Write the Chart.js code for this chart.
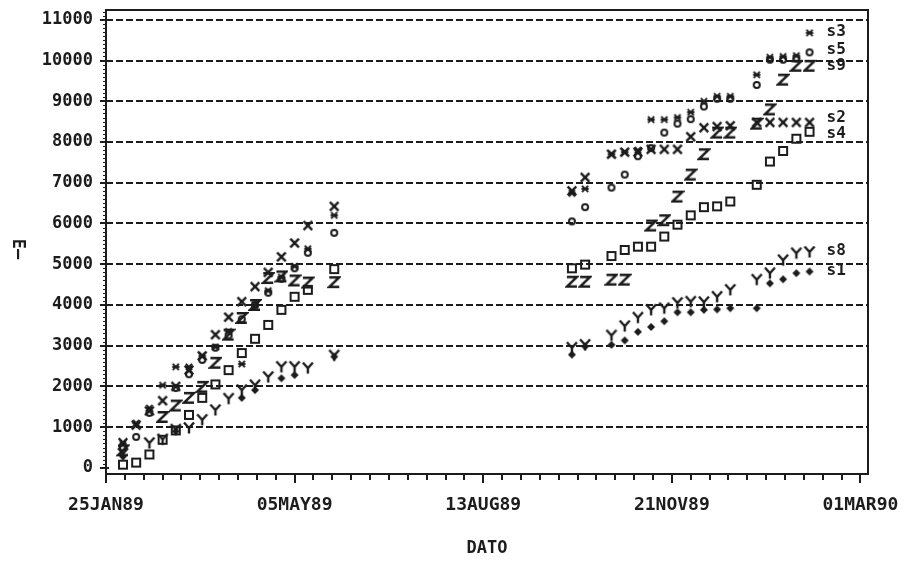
<!DOCTYPE html>
<html><head><meta charset="utf-8">
<script src="https://cdn.jsdelivr.net/npm/chart.js@4.4.1/dist/chart.umd.min.js"></script>
<style>html,body{margin:0;padding:0;background:#fff;}canvas{display:block;}</style>
</head><body>
<canvas id="c" width="905" height="565"></canvas>
<script>
// ---- data ----
const dates = [
 '1989-02-03','1989-02-10','1989-02-17','1989-02-24','1989-03-03','1989-03-10','1989-03-17','1989-03-24',
 '1989-03-31','1989-04-07','1989-04-14','1989-04-21','1989-04-28','1989-05-05','1989-05-12','1989-05-26',
 '1989-09-29','1989-10-06','1989-10-20','1989-10-27','1989-11-03','1989-11-10','1989-11-17','1989-11-24',
 '1989-12-01','1989-12-08','1989-12-15','1989-12-22','1990-01-05','1990-01-12','1990-01-19','1990-01-26','1990-02-02'];
const s1 = [280,null,null,null,900,null,null,null,null,1720,1910,null,2200,2280,null,2730,
            2780,2980,3020,3130,3340,3460,3600,3820,3820,3880,3890,3920,3920,4530,4630,4780,4820];
const s2 = [620,1050,1400,1650,2000,2400,2750,3270,3700,4080,4450,4800,5180,5520,5950,6420,
            6800,7130,7700,7750,7750,7820,7820,7820,8130,8350,8380,8400,8480,8480,8480,8480,8480];
const s3 = [600,1100,1470,2030,2480,2480,2750,2970,3350,2550,4000,4350,4680,4950,5380,6200,
            6740,6850,7700,7750,7800,8550,8550,8600,8730,9000,9120,9120,9650,10080,10100,10120,10680];
const s4 = [80,130,330,690,920,1300,1720,2050,2400,2820,3170,3510,3880,4200,4370,4880,
            4900,4990,5200,5350,5430,5430,5680,5970,6200,6400,6420,6540,6950,7520,7780,8080,8250];
const s5 = [500,760,1350,null,1960,2300,2650,2950,3250,3650,4000,4300,4640,4900,5280,5770,
            6050,6400,6880,7200,7650,7850,8230,8450,8560,8870,9060,9060,9400,10020,10020,10050,10200];
const s8 = [350,null,610,700,940,980,1180,1420,1700,1910,2030,2230,2480,2480,2450,2760,
            2950,3020,3250,3480,3690,3880,3920,4050,4080,4070,4200,4370,4620,4780,5100,5270,5300];
const s9 = [430,null,null,1250,1530,1720,1990,2580,3270,3680,4000,4660,4700,4600,4550,4560,
            4570,4570,4620,4620,null,5950,6080,6660,7200,7700,8230,8230,8450,8800,9530,9870,9870];
const seriesNames = ['s1','s2','s3','s4','s5','s8','s9'];
const seriesValues = [s1,s2,s3,s4,s5,s8,s9];
const xTickLabels = ['25JAN89','05MAY89','13AUG89','21NOV89','01MAR90'];
const yTickValues = [0,1000,2000,3000,4000,5000,6000,7000,8000,9000,10000,11000];
const xAxisTitle = 'DATO';
const yAxisTitle = 'E\u2014';

// ---- helpers ----
const MON = {JAN:0,FEB:1,MAR:2,APR:3,MAY:4,JUN:5,JUL:6,AUG:7,SEP:8,OCT:9,NOV:10,DEC:11};
function parseTick(s){ return Date.UTC(1900+ +s.slice(5,7), MON[s.slice(2,5)], +s.slice(0,2)); }
const ORIGIN = parseTick(xTickLabels[0]);
const DAY = 86400000;
function dayOf(iso){ const [y,m,d]=iso.split('-').map(Number); return (Date.UTC(y,m-1,d)-ORIGIN)/DAY; }
const xTickValues = xTickLabels.map(s => (parseTick(s)-ORIGIN)/DAY);

const INK = '#1c1c1c';
function mk(size, draw){
  const c=document.createElement('canvas'); c.width=c.height=size;
  const g=c.getContext('2d'); g.translate(size/2,size/2);
  g.strokeStyle=INK; g.fillStyle=INK; g.lineWidth=2.4; draw(g); return c;
}
const line=(g,a,b,c,d)=>{g.beginPath();g.moveTo(a,b);g.lineTo(c,d);g.stroke();};
const markers = {
  s1: mk(10,g=>{g.beginPath();g.moveTo(0,-4);g.lineTo(4,0);g.lineTo(0,4);g.lineTo(-4,0);g.closePath();g.fill();}),
  s2: mk(14,g=>{line(g,-4.3,-4.3,4.3,4.3);line(g,-4.3,4.3,4.3,-4.3);}),
  s3: mk(10,g=>{g.lineWidth=2;line(g,-3.1,-3.1,3.1,3.1);line(g,-3.1,3.1,3.1,-3.1);line(g,-3.6,0,3.6,0);}),
  s4: mk(12,g=>{g.lineWidth=2;g.strokeRect(-4,-4,8,8);}),
  s5: mk(10,g=>{g.lineWidth=2;g.beginPath();g.arc(0,0,3,0,Math.PI*2);g.stroke();}),
  s8: mk(14,g=>{line(g,-5,-5.5,0,0);line(g,5,-5.5,0,0);line(g,0,0,0,5.5);}),
  s9: mk(14,g=>{g.beginPath();g.moveTo(-5,-4.8);g.lineTo(5,-4.8);g.lineTo(-5,4.8);g.lineTo(5,4.8);g.stroke();})
};

const FONT = "'DejaVu Sans Mono'";
const datasets = seriesNames.map((n,i)=>({
  label:n,
  data: dates.map((d,j)=>({x:dayOf(d), y:seriesValues[i][j]})).filter(p=>p.y!==null),
  pointStyle: markers[n], pointRadius:5, showLine:false
}));

const decor = {
  id:'decor',
  beforeDatasetsDraw(chart){
    const {ctx, chartArea:a, scales:{x,y}} = chart;
    ctx.save();
    ctx.strokeStyle=INK;
    ctx.lineWidth=2; ctx.setLineDash([7,3]);
    yTickValues.forEach(v=>{ if(v===0) return; const py=Math.round(y.getPixelForValue(v));
      ctx.beginPath(); ctx.moveTo(a.left,py); ctx.lineTo(a.right,py); ctx.stroke(); });
    ctx.setLineDash([]);
    ctx.strokeRect(a.left,a.top,a.right-a.left,a.bottom-a.top);
    for(let d=xTickValues[0]; d<=xTickValues[xTickValues.length-1]; d+=10){
      const px=Math.round(x.getPixelForValue(d)); const major=xTickValues.includes(d);
      ctx.lineWidth=2; ctx.beginPath(); ctx.moveTo(px,a.bottom); ctx.lineTo(px,a.bottom+(major?9:6)); ctx.stroke();
    }
    ctx.lineWidth=1;
    for(let v=0; v<=11200; v+=100){ const py=Math.round(y.getPixelForValue(v))+0.5;
      ctx.beginPath(); ctx.moveTo(a.left-3,py); ctx.lineTo(a.left,py); ctx.stroke(); }
    ctx.lineWidth=2;
    yTickValues.forEach(v=>{ const py=Math.round(y.getPixelForValue(v));
      ctx.beginPath(); ctx.moveTo(a.left-6,py); ctx.lineTo(a.left+3,py); ctx.stroke(); });
    ctx.fillStyle=INK; ctx.font='bold 17px '+FONT; ctx.textAlign='center'; ctx.textBaseline='middle';
    ctx.translate(17,(a.top+a.bottom)/2+7); ctx.rotate(Math.PI/2); ctx.fillText(yAxisTitle,0,0);
    ctx.restore();
  },
  afterDatasetsDraw(chart){
    const {ctx, scales:{x,y}} = chart;
    const labs = chart.data.datasets.map(ds=>{ const p=ds.data[ds.data.length-1];
      return {t:ds.label, x:x.getPixelForValue(p.x)+17, y:y.getPixelForValue(p.y)-1}; });
    labs.sort((a,b)=>a.y-b.y);
    const GAP=16;
    for(let it=0; it<20; it++){
      for(let i=1;i<labs.length;i++){ const d=labs[i].y-labs[i-1].y;
        if(d<GAP){ const s=(GAP-d)/2; labs[i].y+=s; labs[i-1].y-=s; } }
    }
    ctx.save(); ctx.fillStyle=INK; ctx.font='bold 16px '+FONT; ctx.textBaseline='middle'; ctx.textAlign='left';
    labs.forEach(l=>ctx.fillText(l.t,l.x,l.y));
    ctx.restore();
  }
};

new Chart(document.getElementById('c'),{
  type:'scatter',
  data:{datasets},
  options:{
    responsive:false, animation:false, devicePixelRatio:1,
    layout:{padding:{top:10,right:37,left:0,bottom:0}},
    plugins:{legend:{display:false},tooltip:{enabled:false}},
    scales:{
      x:{type:'linear',min:0,max:404,
        afterBuildTicks(s){ s.ticks = xTickValues.map(v=>({value:v})); },
        afterFit(s){ s.height=91; s.paddingLeft=0; s.paddingRight=0; },
        grid:{display:false}, border:{display:false},
        ticks:{autoSkip:false,maxRotation:0,padding:13,color:INK,font:{family:FONT,size:18,weight:'bold'},
          callback:(v)=>xTickLabels[xTickValues.indexOf(v)]},
        title:{display:true,text:xAxisTitle,color:INK,font:{family:FONT,size:17,weight:'bold'},padding:{top:0,bottom:6}}
      },
      y:{type:'linear',min:-150,max:11240,
        afterBuildTicks(s){ s.ticks = yTickValues.map(v=>({value:v})); },
        afterFit(s){ s.width=106; s.paddingTop=0; s.paddingBottom=0; },
        grid:{display:false}, border:{display:false},
        ticks:{padding:5,color:INK,font:{family:FONT,size:17,weight:'bold'}, callback:v=>String(v)}
      }
    }
  },
  plugins:[decor]
});
</script>
</body></html>
